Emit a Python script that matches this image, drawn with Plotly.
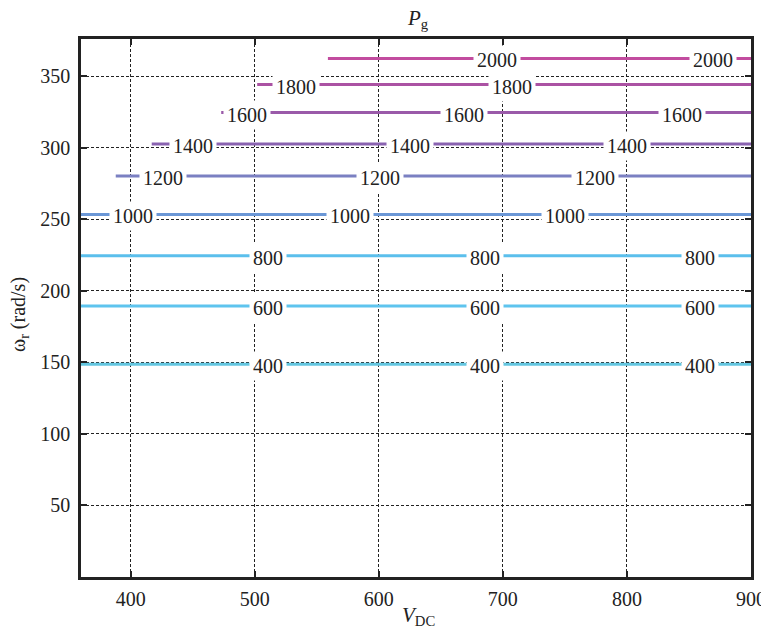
import plotly.graph_objects as go

# Contour levels of P_g and where each (horizontal) iso-line lies
levels = [400, 600, 800, 1000, 1200, 1400, 1600, 1800, 2000]
omega_at_level = [148.7, 189.4, 224.5, 253.4, 280.2, 302.7, 324.6, 344.2, 362.4]
vdc_start = [360, 360, 360, 360, 388, 417, 473, 502, 559]
vdc_end = 900
label_vdc = [
    [511, 686, 859],
    [511, 686, 859],
    [511, 686, 859],
    [402, 577, 750],
    [426, 601, 774],
    [450, 625, 800],
    [494, 669, 844],
    [533, 707],
    [695, 869],
]
line_colors = ["#63c6e0", "#5ec4ee", "#5bbfec", "#6b97d6", "#7b80c2",
               "#8a63b1", "#9a5aa9", "#ab52a3", "#c24c9f"]

x_ticks = [400, 500, 600, 700, 800, 900]
y_ticks = [50, 100, 150, 200, 250, 300, 350]

FONT = "Liberation Serif"
INK = "#222222"

fig = go.Figure()
annotations = []
for lev, om, x0, labs, col in zip(levels, omega_at_level, vdc_start, label_vdc, line_colors):
    fig.add_trace(go.Scatter(
        x=[x0, vdc_end], y=[om, om], mode="lines",
        line=dict(color=col, width=3), showlegend=False, hoverinfo="skip",
    ))
    for lx in labs:
        annotations.append(dict(
            x=lx, y=om, xref="x", yref="y", text=str(lev), showarrow=False,
            font=dict(family=FONT, size=20, color=INK),
            bgcolor="white", borderpad=3, yshift=-2,
        ))

# titles as annotations for precise placement
annotations.append(dict(
    text="<i>P</i><sub>g</sub>", xref="paper", yref="paper", x=0.5, y=1,
    xanchor="center", yanchor="bottom", yshift=5, xshift=2, showarrow=False,
    font=dict(family=FONT, size=21, color=INK),
))
annotations.append(dict(
    text="<i>V</i><sub>DC</sub>", xref="paper", yref="paper", x=0.5, y=0,
    xanchor="center", yanchor="top", yshift=-24, xshift=2, showarrow=False,
    font=dict(family=FONT, size=21, color=INK),
))
annotations.append(dict(
    text="ω<sub>r</sub> (rad/s)", xref="paper", yref="paper", x=0, y=0.5,
    xanchor="center", yanchor="middle", xshift=-62, yshift=-7, textangle=-90,
    showarrow=False, font=dict(family=FONT, size=20, color=INK),
))

fig.update_layout(
    width=761, height=635,
    margin=dict(l=73, r=18, t=31, b=66),
    paper_bgcolor="white", plot_bgcolor="white",
    font=dict(family=FONT, size=20, color=INK),
    annotations=annotations,
    xaxis=dict(
        range=[360, 900], tickvals=x_ticks, ticks="inside", ticklen=6,
        tickwidth=2, tickcolor=INK, automargin=False,
        showline=True, linewidth=2.5, linecolor=INK, mirror="ticks",
        showgrid=True, gridcolor=INK, gridwidth=1, griddash="3px,2px",
        zeroline=False, ticklabelstandoff=2,
    ),
    yaxis=dict(
        range=[0, 376], tickvals=y_ticks, ticks="inside", ticklen=6,
        tickwidth=2, tickcolor=INK, automargin=False,
        showline=True, linewidth=2.5, linecolor=INK, mirror="ticks",
        showgrid=True, gridcolor=INK, gridwidth=1, griddash="3px,2px",
        zeroline=False, ticklabelstandoff=4,
    ),
)

fig.write_html("out.html")
